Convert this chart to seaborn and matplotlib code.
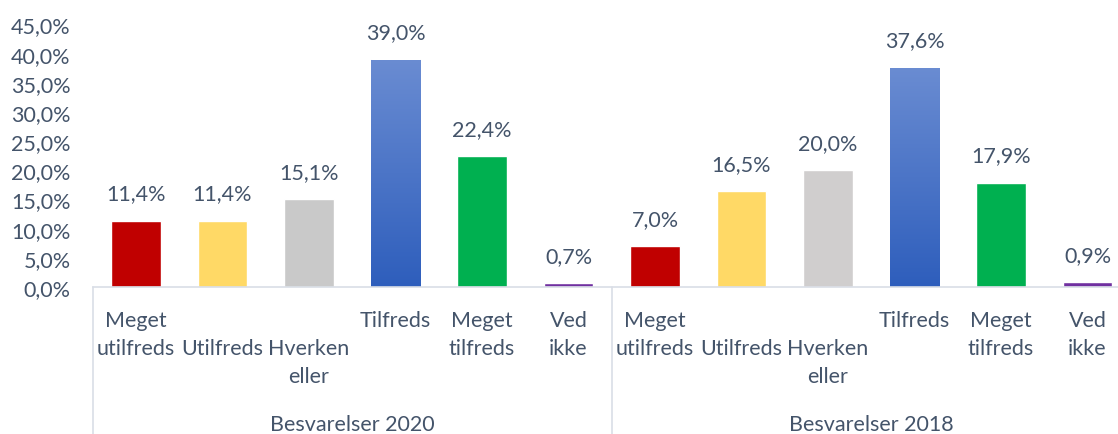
import matplotlib
matplotlib.use("Agg")
import matplotlib.pyplot as plt
import seaborn as sns
import numpy as np
import pandas as pd
from matplotlib.colors import LinearSegmentedColormap

groups = ["Besvarelser 2020", "Besvarelser 2018"]
categories = ["Meget\nutilfreds", "\nUtilfreds", "\nHverken\neller", "Tilfreds", "Meget\ntilfreds", "Ved\nikke"]
values_2020 = [11.4, 11.4, 15.1, 39.0, 22.4, 0.7]
values_2018 = [7.0, 16.5, 20.0, 37.6, 17.9, 0.9]
colors_2020 = ["#C00000", "#FFD966", "#C9C9C9", "#4472C4", "#00B050", "#7030A0"]
colors_2018 = ["#C00000", "#FFD966", "#D0CECE", "#4472C4", "#00B050", "#7030A0"]
yticks = [0, 5, 10, 15, 20, 25, 30, 35, 40, 45]

sns.set_theme(style="white")
plt.rcParams['font.family'] = ['Lato', 'DejaVu Sans']
TXT = "#44546A"
LINE = "#D9DEE6"
FS = 15.5

keys = [f"{g}|{c}" for g in groups for c in categories]
vals = values_2020 + values_2018
cols = colors_2020 + colors_2018
df = pd.DataFrame({"key": keys, "value": vals})

fig = plt.figure(figsize=(11.18, 4.35), dpi=100)
ax = fig.add_axes([92.75 / 1118, (435 - 288) / 435, 1038 / 1118, 262.5 / 435])

sns.barplot(data=df, x="key", y="value", hue="key", palette=cols, width=0.578,
            legend=False, ax=ax, saturation=1, order=keys, hue_order=keys)

ax.set_ylim(0, 45)
ax.set_xlim(-0.5, 11.5)
ax.set_yticks(yticks)
ax.set_yticklabels([f"{t:.1f}".replace(".", ",") + "%" for t in yticks], fontsize=FS, color=TXT)
ax.tick_params(axis="y", length=0, pad=16)
ax.tick_params(axis="x", length=0)
ax.set_xticks([])
ax.set_xlabel("")
ax.set_ylabel("")
for s in ["top", "right", "left"]:
    ax.spines[s].set_visible(False)
ax.spines["bottom"].set_color(LINE)
ax.spines["bottom"].set_linewidth(1.2)
ax.grid(False)

# gradient on the "Tilfreds" bars
patches = ax.patches
grad = np.linspace(0, 1, 256).reshape(-1, 1)
cmap = LinearSegmentedColormap.from_list("bl", ["#2E5EBC", "#6A8CD2"])
for idx in [3, 9]:
    p = patches[idx]
    bb = p.get_bbox()
    im = ax.imshow(grad, extent=[bb.x0, bb.x1, bb.y0, bb.y1], origin="lower",
                   cmap=cmap, aspect="auto", zorder=p.get_zorder() + 0.1)
    im.set_clip_path(p)
ax.set_xlim(-0.5, 11.5)
ax.set_ylim(0, 45)

# value labels
for i, v in enumerate(vals):
    ax.annotate(f"{v:.1f}".replace(".", ",") + "%", (i, v), xytext=(0, 19.5),
                textcoords="offset points", ha="center", va="center",
                fontsize=FS, color=TXT, annotation_clip=False)

# category labels
trans = ax.get_xaxis_transform()
for i, k in enumerate(keys):
    cat = k.split("|")[1]
    ax.text(i, -0.088, cat, transform=trans, ha="center", va="top",
            fontsize=FS, color=TXT, linespacing=1.5, clip_on=False)

# group labels
for gi, g in enumerate(groups):
    ax.text(gi * 6 + 2.5, -0.522, g, transform=trans, ha="center", va="center",
            fontsize=FS, color=TXT, clip_on=False)

# separators
for xs in [-0.5, 5.5, 11.5]:
    ax.plot([xs, xs], [0, -0.6], transform=trans, color=LINE, lw=1.2, clip_on=False)

fig.savefig("out.png", dpi=100)
